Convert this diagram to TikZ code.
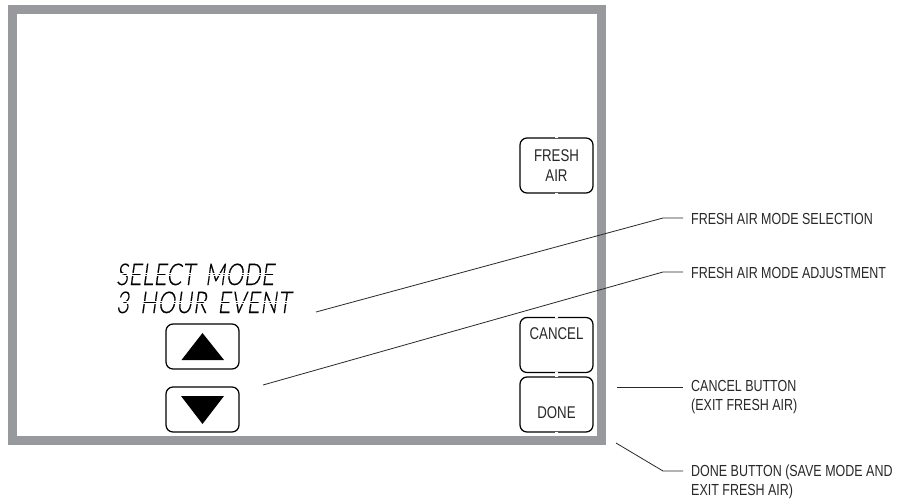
\documentclass[tikz,border=0pt]{standalone}
\usepackage{fontspec}
\setmainfont{Liberation Sans}[FakeStretch=0.78]
\newfontfamily\lcdfonta{Lato Light}[FakeSlant=0.14,LetterSpace=1.5,FakeStretch=0.74,FakeBold=0.4,WordSpace=1.6]
\newfontfamily\lcdfontb{Lato Light}[FakeSlant=0.14,LetterSpace=2.8,FakeStretch=0.74,FakeBold=0.4,WordSpace=1.6]
\usetikzlibrary{calc}
\definecolor{framegray}{RGB}{152,153,156}
\definecolor{inkgray}{RGB}{40,40,40}
\tikzset{
  x=1pt,y=-1pt,
  framebox/.style={draw=framegray,line width=8.8pt,fill=white},
  softkey/.style={draw=black,line width=1.25pt,rounded corners=7pt,fill=white,inner sep=0pt,
    minimum width=73pt,font=\fontsize{17}{20}\selectfont,text=inkgray,align=center},
  keytext/.style={text=inkgray,font=\fontsize{17}{20}\selectfont,inner sep=0pt},
  gapmark/.style={draw=white,line width=3pt},
  tri/.style={fill=black,draw=none},
  lead/.style={draw=inkgray,line width=.8pt},
  callout/.style={anchor=west,inner sep=0pt,font=\fontsize{16}{19.5}\selectfont,text=inkgray,align=left},
  lcd/.style={anchor=base west,inner sep=0pt,text=black},
  slit/.style={draw=white,line width=.6pt}
}
\begin{document}
\begin{tikzpicture}
\useasboundingbox (0,0) rectangle (900,499);
\fill[white] (0,0) rectangle (900,499);
\draw[framebox] (12.4,9.4) rectangle (601.6,440.6);
% soft keys
\node[softkey,minimum height=55pt] (fresh) at (556.5,165.5) {FRESH\\[0pt]AIR};
\node[softkey,minimum height=55pt] (cancel) at (556.5,345) {};
\node[softkey,minimum height=55pt] (done) at (556.5,404.5) {};
\node[keytext] (canceltxt) at (556.5,334) {CANCEL};
\node[keytext] (donetxt) at (556.5,413) {DONE};
\foreach \k in {fresh,cancel,done}{
  \draw[gapmark] ($(\k.north)+(0,-1)$) -- ($(\k.north)+(0,1)$);
  \draw[gapmark] ($(\k.south)+(0,-1)$) -- ($(\k.south)+(0,1)$);
}
\node[softkey,minimum height=45pt] (up) at (202.5,346.5) {};
\node[softkey,minimum height=45pt] (down) at (202.5,409.5) {};
\fill[tri] ($(up)+(-21,13.5)$) -- ($(up)+(21.5,13.5)$) -- ($(up)+(0,-13.5)$) -- cycle;
\fill[tri] ($(down)+(-21.5,-13.5)$) -- ($(down)+(21.5,-13.5)$) -- ($(down)+(0,14.5)$) -- cycle;
% display text
\node[lcd,font=\lcdfonta\fontsize{30}{30}\selectfont] (sel) at (116,285) {SELECT MODE};
\node[lcd,font=\lcdfontb\fontsize{30}{30}\selectfont] (evt) at (116,313) {3 HOUR EVENT};
\foreach \yy in {273,275.2,301.5,303.7}
  \draw[slit] (110,\yy) -- (300,\yy);
% callouts
\node[callout] (l1) at (691,219) {FRESH AIR MODE SELECTION};
\node[callout] (l2) at (691,273) {FRESH AIR MODE ADJUSTMENT};
\node[callout] (l3) at (691,397) {CANCEL BUTTON\\(EXIT FRESH AIR)};
\node[callout] (l4) at (691,482) {DONE BUTTON (SAVE MODE AND\\EXIT FRESH AIR)};
\coordinate (a1) at (316,312);
\coordinate (b1) at (663,218);
\coordinate (e1) at (683,218);
\coordinate (a2) at (263,385);
\coordinate (b2) at (663,272);
\coordinate (e2) at (683,272);
\coordinate (a3) at (617,387);
\coordinate (e3) at (683,387);
\coordinate (a4) at (616,443);
\coordinate (b4) at (663,471);
\coordinate (e4) at (683,471);
\draw[lead] (a1) -- (b1) -- (e1);
\draw[lead] (a2) -- (b2) -- (e2);
\draw[lead] (a3) -- (e3);
\draw[lead] (a4) -- (b4) -- (e4);
\end{tikzpicture}
\end{document}
